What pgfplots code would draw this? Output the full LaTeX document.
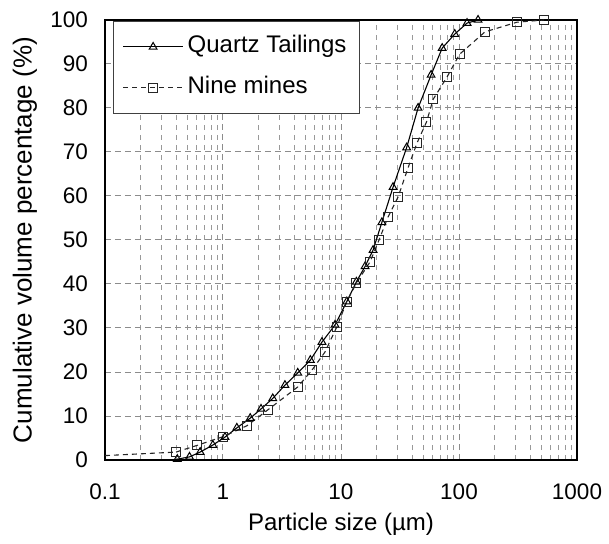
\documentclass[border=0pt]{standalone}
\usepackage{pgfplots}
\pgfplotsset{compat=1.18}
\usepackage{fontspec}
\setmainfont{Liberation Sans}

% Cumulative particle size distributions (size in micrometres, cumulative volume %)
\pgfplotstableread{
x y
0.41 0.2
0.52 0.7
0.64 1.8
0.82 3.4
1.04 5.2
1.31 7.3
1.70 9.5
2.10 11.6
2.64 14.0
3.35 17.0
4.30 19.8
5.50 22.7
6.90 26.8
8.90 30.7
11.2 36.0
13.5 40.5
16.0 44.0
18.7 47.7
22.2 54.0
27.6 62.0
36.0 71.0
45.0 80.0
58.0 87.5
72.0 93.6
92.0 96.8
117 99.3
145 100
}\quartz

\pgfplotstableread{
x y
0.40 1.8
0.60 3.3
1.00 5.3
1.60 7.8
2.40 11.4
4.30 16.6
5.70 20.5
7.30 24.5
9.20 30.2
11.2 36.0
13.5 40.2
17.6 45.0
21.0 50.0
25.0 55.2
30.5 59.8
37.0 66.4
44.0 72.0
53.0 76.8
60.5 82.0
79.0 87.0
101 92.2
166 97.3
310 99.5
526 100
}\ninemines

\begin{document}
\begin{tikzpicture}
\begin{axis}[
  name=ax,
  xmode=log,
  scale only axis,
  width=472bp, height=440bp,
  xmin=0.1, xmax=1000,
  ymin=0, ymax=100,
  xtick={0.1,1,10,100,1000},
  xticklabels={0.1,1,10,100,1000},
  ytick={0,10,...,100},
  major tick length=0pt, minor tick length=0pt,
  axis line style={black, line width=1.8bp},
  grid=both,
  major grid style={black!45, line width=1bp, dash pattern=on 6bp off 4bp},
  minor grid style={black!40, line width=1bp, dash pattern=on 5bp off 5bp},
  yminorgrids=false,
  /pgf/number format/assume math mode=true,
  tick label style={font=\fontsize{22.5bp}{27bp}\selectfont, inner sep=0pt},
  yticklabel style={anchor=east, xshift=-17bp},
  xticklabel style={anchor=north, yshift=-24bp},
  xlabel={Particle size (µm)},
  ylabel={Cumulative volume percentage (\%)},
  xlabel style={font=\fontsize{24bp}{28bp}\selectfont,
    at={(axis description cs:0.5,-0.1455)}, anchor=center},
  ylabel style={font=\fontsize{26bp}{30bp}\selectfont,
    at={(axis description cs:-0.1695,0.5)}, anchor=center, rotate=0},
  clip=false,
  legend cell align=left,
  legend style={
    at={(axis description cs:0.017,0.998)}, anchor=north west,
    draw=black!75, line width=1.1bp, fill=white,
    font=\fontsize{24bp}{28bp}\selectfont,
    inner xsep=9bp, inner ysep=5bp,
    nodes={text height=17bp, text depth=5bp, inner ysep=9.5bp, inner xsep=4bp},
    row sep=0pt,
  },
  legend image code/.code={
    \draw[mark repeat=2, mark phase=2, #1]
      plot coordinates {(0bp,0bp) (30bp,0bp) (60bp,0bp)};
  },
]
\addplot[black, line width=1.1bp, mark=triangle,
  mark size=4.5bp, mark options={solid, fill=white, line width=1bp}]
  table {\quartz};
\addlegendentry{Quartz Tailings}

\addplot[black!85, line width=1.1bp, dash pattern=on 5bp off 4bp, mark=square,
  mark size=4.5bp, mark options={solid, fill=white, line width=1bp}]
  table {\ninemines};
\addlegendentry{Nine mines}

% dashed lead-in from the left edge to the first measured size
\addplot[black!85, line width=1.1bp, dash pattern=on 5bp off 4bp, forget plot]
  coordinates {(0.1,1.0) (0.40,1.8)};
\end{axis}
\pgfresetboundingbox
\path ([xshift=-105bp,yshift=-84bp]ax.south west) rectangle ([xshift=32bp,yshift=20bp]ax.north east);
\end{tikzpicture}
\end{document}
